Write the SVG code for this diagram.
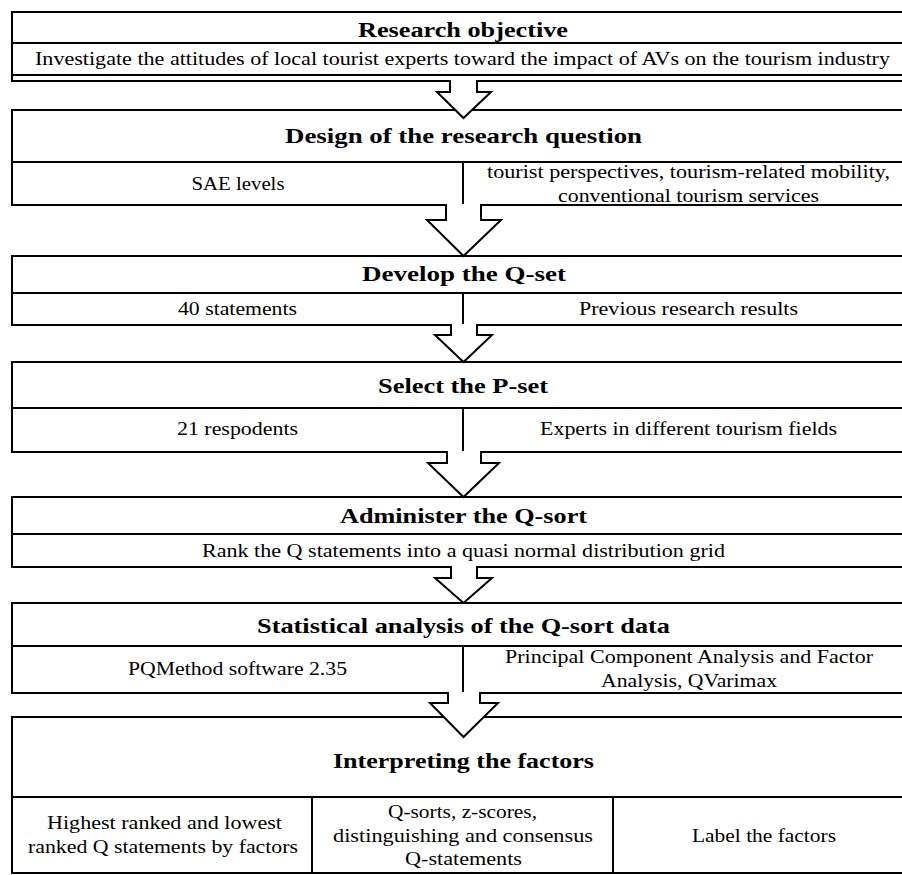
<svg xmlns="http://www.w3.org/2000/svg" width="902" height="875" viewBox="0 0 902 875">
  <style>
    .box { fill: #ffffff; stroke: #000000; stroke-width: 2; }
    .div { stroke: #000000; stroke-width: 2; fill: none; }
    .arrow { fill: #ffffff; stroke: #000000; stroke-width: 2; stroke-linejoin: miter; }
    .t { font-family: 'Liberation Serif', 'Times New Roman', serif; font-weight: bold; font-size: 22px; fill: #000000; text-anchor: middle; }
    .b { font-family: 'Liberation Serif', 'Times New Roman', serif; font-size: 19.5px; fill: #000000; text-anchor: middle; }
  </style>
  <rect width="902" height="875" fill="#ffffff"/>

  <!-- Stage 1 -->
  <g id="research-objective">
    <rect class="box" x="12" y="12" width="903" height="69"/>
    <rect class="box" x="12" y="43" width="903" height="32"/>
    <text class="t" x="463" y="37" textLength="210" lengthAdjust="spacingAndGlyphs">Research objective</text>
    <text class="b" x="462.5" y="65" textLength="855" lengthAdjust="spacingAndGlyphs">Investigate the attitudes of local tourist experts toward the impact of AVs on the tourism industry</text>
  </g>

  <!-- Stage 2 -->
  <g id="design-question">
    <rect class="box" x="12" y="110" width="903" height="95"/>
    <rect class="box" x="12" y="162" width="903" height="43"/>
    <line class="div" x1="463" y1="162" x2="463" y2="205"/>
    <text class="t" x="463.5" y="143" textLength="357" lengthAdjust="spacingAndGlyphs">Design of the research question</text>
    <text class="b" x="238" y="190" textLength="93" lengthAdjust="spacingAndGlyphs">SAE levels</text>
    <text class="b" x="688.5" y="178" textLength="403" lengthAdjust="spacingAndGlyphs">tourist perspectives, tourism-related mobility,</text>
    <text class="b" x="688.5" y="202" textLength="261" lengthAdjust="spacingAndGlyphs">conventional tourism services</text>
  </g>

  <!-- Stage 3 -->
  <g id="develop-qset">
    <rect class="box" x="12" y="256" width="903" height="69"/>
    <rect class="box" x="12" y="293" width="903" height="32"/>
    <line class="div" x1="463" y1="293" x2="463" y2="325"/>
    <text class="t" x="464" y="281" textLength="204" lengthAdjust="spacingAndGlyphs">Develop the Q-set</text>
    <text class="b" x="237.5" y="315" textLength="119" lengthAdjust="spacingAndGlyphs">40 statements</text>
    <text class="b" x="688.5" y="315" textLength="219" lengthAdjust="spacingAndGlyphs">Previous research results</text>
  </g>

  <!-- Stage 4 -->
  <g id="select-pset">
    <rect class="box" x="12" y="362" width="903" height="90"/>
    <rect class="box" x="12" y="408" width="903" height="44"/>
    <line class="div" x1="463" y1="408" x2="463" y2="452"/>
    <text class="t" x="463" y="393" textLength="170" lengthAdjust="spacingAndGlyphs">Select the P-set</text>
    <text class="b" x="237.5" y="435" textLength="121" lengthAdjust="spacingAndGlyphs">21 respodents</text>
    <text class="b" x="688.5" y="435" textLength="297" lengthAdjust="spacingAndGlyphs">Experts in different tourism fields</text>
  </g>

  <!-- Stage 5 -->
  <g id="administer-qsort">
    <rect class="box" x="12" y="497" width="903" height="70"/>
    <rect class="box" x="12" y="534" width="903" height="33"/>
    <text class="t" x="463.5" y="523" textLength="247" lengthAdjust="spacingAndGlyphs">Administer the Q-sort</text>
    <text class="b" x="463.5" y="557" textLength="523" lengthAdjust="spacingAndGlyphs">Rank the Q statements into a quasi normal distribution grid</text>
  </g>

  <!-- Stage 6 -->
  <g id="statistical-analysis">
    <rect class="box" x="12" y="603" width="903" height="90"/>
    <rect class="box" x="12" y="646" width="903" height="47"/>
    <line class="div" x1="463" y1="646" x2="463" y2="693"/>
    <text class="t" x="463.5" y="633" textLength="413" lengthAdjust="spacingAndGlyphs">Statistical analysis of the Q-sort data</text>
    <text class="b" x="237.5" y="675" textLength="219" lengthAdjust="spacingAndGlyphs">PQMethod software 2.35</text>
    <text class="b" x="689" y="663" textLength="368" lengthAdjust="spacingAndGlyphs">Principal Component Analysis and Factor</text>
    <text class="b" x="689" y="687" textLength="176" lengthAdjust="spacingAndGlyphs">Analysis, QVarimax</text>
  </g>

  <!-- Stage 7 -->
  <g id="interpreting-factors">
    <rect class="box" x="12" y="717" width="903" height="156"/>
    <rect class="box" x="12" y="797" width="903" height="76"/>
    <line class="div" x1="312" y1="797" x2="312" y2="873"/>
    <line class="div" x1="613" y1="797" x2="613" y2="873"/>
    <text class="t" x="463.5" y="768" textLength="261" lengthAdjust="spacingAndGlyphs">Interpreting the factors</text>
    <text class="b" x="164.5" y="829" textLength="235" lengthAdjust="spacingAndGlyphs">Highest ranked and lowest</text>
    <text class="b" x="163" y="853" textLength="270" lengthAdjust="spacingAndGlyphs">ranked Q statements by factors</text>
    <text class="b" x="462.5" y="818" textLength="149" lengthAdjust="spacingAndGlyphs">Q-sorts, z-scores,</text>
    <text class="b" x="463" y="842" textLength="260" lengthAdjust="spacingAndGlyphs">distinguishing and consensus</text>
    <text class="b" x="463.5" y="865" textLength="117" lengthAdjust="spacingAndGlyphs">Q-statements</text>
    <text class="b" x="764" y="842" textLength="144" lengthAdjust="spacingAndGlyphs">Label the factors</text>
  </g>

  <!-- Block arrows between stages (open at the top so they merge into the box above) -->
  <g id="connectors">
    <path class="arrow" d="M450 80 L450 92 L437 92 L463.5 118 L491 92 L477 92 L477 80"/>
    <path class="arrow" d="M446 204 L446 220 L427 220 L463.5 256 L501 220 L481 220 L481 204"/>
    <path class="arrow" d="M451 324 L451 335 L435 335 L463.5 362 L492 335 L477 335 L477 324"/>
    <path class="arrow" d="M447 451 L447 463 L428 463 L463.5 497 L499 463 L481 463 L481 451"/>
    <path class="arrow" d="M451 566 L451 578 L435 578 L463.5 603 L492 578 L477 578 L477 566"/>
    <path class="arrow" d="M448 692 L448 703 L430 703 L463.5 737 L498 703 L480 703 L480 692"/>
  </g>
</svg>
